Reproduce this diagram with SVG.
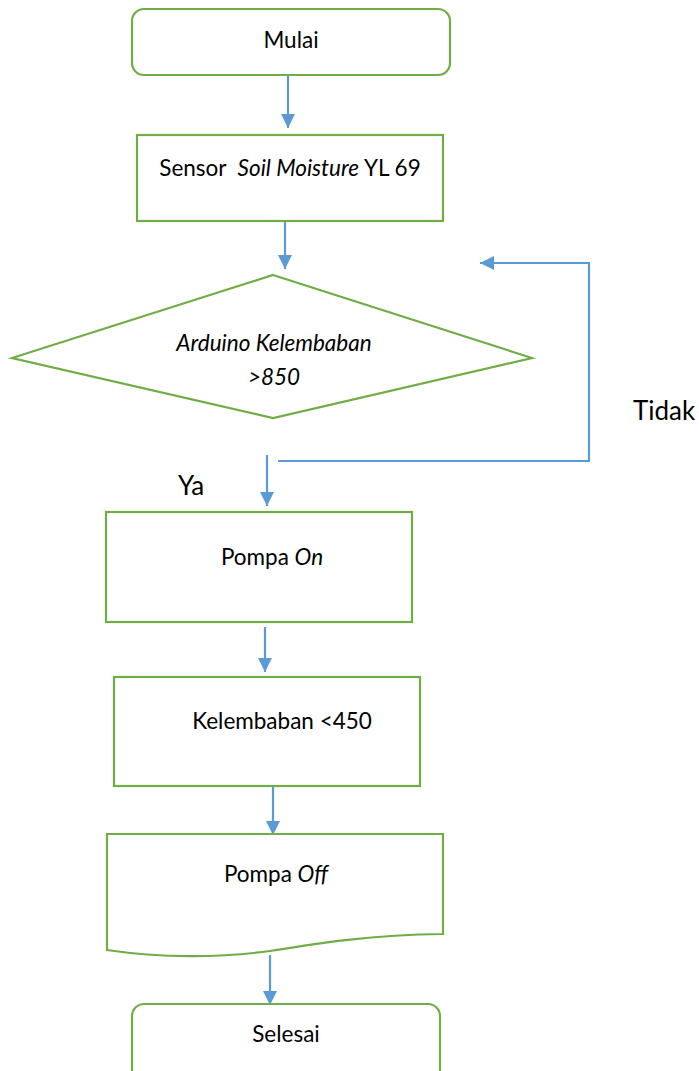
<svg xmlns="http://www.w3.org/2000/svg" width="699" height="1071" viewBox="0 0 699 1071">
<defs>
<style>
.n{fill:#fff;stroke:#70AD47;stroke-width:2.2}
.c{fill:none;stroke:#5B9BD5;stroke-width:2.2}
.t{font-family:Lato,"Open Sans",sans-serif;font-size:22.5px;fill:#000;text-anchor:middle}
.i{font-style:italic}
.l{font-family:Lato,"Open Sans",sans-serif;font-size:26px;fill:#000}
</style>
<marker id="ah" viewBox="0 0 10 10" refX="10" refY="5" markerWidth="6.5" markerHeight="6.5" markerUnits="strokeWidth" orient="auto">
<path d="M0,0 L10,5 L0,10 z" fill="#5B9BD5"/>
</marker>
</defs>
<rect width="699" height="1071" fill="#fff"/>
<g id="connectors">
<line class="c" x1="288" y1="76" x2="288" y2="128" marker-end="url(#ah)"/>
<line class="c" x1="285" y1="216" x2="285" y2="269" marker-end="url(#ah)"/>
<polyline class="c" points="278,461 589,461 589,263 480,263" marker-end="url(#ah)"/>
<line class="c" x1="267" y1="455" x2="267" y2="506" marker-end="url(#ah)"/>
<line class="c" x1="265" y1="627" x2="265" y2="672" marker-end="url(#ah)"/>
<line class="c" x1="273" y1="784" x2="273" y2="835" marker-end="url(#ah)"/>
<line class="c" x1="270" y1="955" x2="270" y2="1005" marker-end="url(#ah)"/>
<text class="l" x="633" y="420">Tidak</text>
<text class="l" x="178" y="495">Ya</text>
</g>
<g id="mulai">
<rect class="n" x="132" y="9" width="318" height="66" rx="12"/>
<text class="t" x="291" y="48">Mulai</text>
</g>
<g id="sensor">
<rect class="n" x="137" y="135" width="306" height="86"/>
<text class="t" x="290" y="176">Sensor&#160; <tspan class="i">Soil Moisture</tspan> YL 69</text>
</g>
<g id="arduino">
<polygon class="n" points="273,275 532,358 273,418 12,358"/>
<text class="t i" x="274" y="351">Arduino Kelembaban</text>
<text class="t i" x="274" y="385">&gt;850</text>
</g>
<g id="pompa-on">
<rect class="n" x="106" y="512" width="306" height="110"/>
<text class="t" x="272" y="565">Pompa <tspan class="i">On</tspan></text>
</g>
<g id="kelembaban">
<rect class="n" x="114" y="677" width="306" height="109"/>
<text class="t" x="282" y="729">Kelembaban &lt;450</text>
</g>
<g id="pompa-off">
<path class="n" d="M107,834 H443 V934 C370,935 320,943 270,951 C220,958 160,958 107,950 Z"/>
<text class="t" x="276" y="882">Pompa <tspan class="i">Off</tspan></text>
</g>
<g id="selesai">
<rect class="n" x="132" y="1004" width="308" height="80" rx="12"/>
<text class="t" x="286" y="1042">Selesai</text>
</g>
</svg>
